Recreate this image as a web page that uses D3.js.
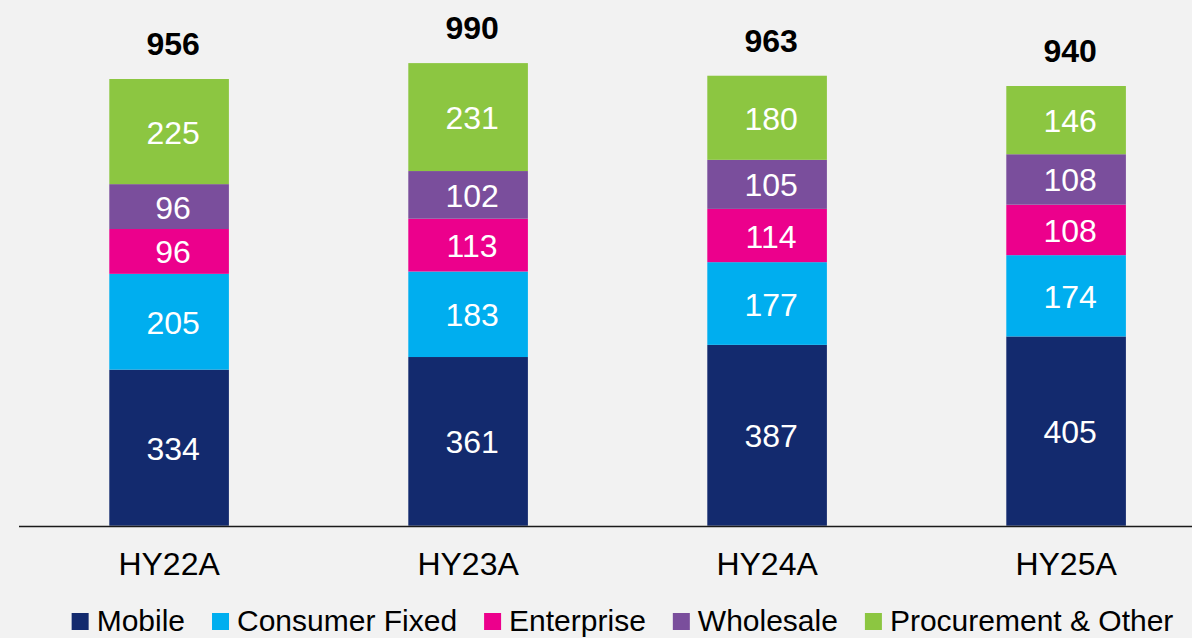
<!DOCTYPE html>
<html>
<head>
<meta charset="utf-8">
<script src="https://cdn.jsdelivr.net/npm/d3@7"></script>
<style>
  html, body { margin: 0; padding: 0; background: #f2f2f2; }
  svg { display: block; font-family: "Liberation Sans", Arial, sans-serif; }
</style>
</head>
<body>
<div class="chart"></div>
<script>
const periods = ["HY22A", "HY23A", "HY24A", "HY25A"];
const seriesNames = ["Mobile", "Consumer Fixed", "Enterprise", "Wholesale", "Procurement & Other"];
const mobile = [334, 361, 387, 405];
const consumerFixed = [205, 183, 177, 174];
const enterprise = [96, 113, 114, 108];
const wholesale = [96, 102, 105, 108];
const procurement = [225, 231, 180, 146];
const totals = [956, 990, 963, 940];

const colors = ["#132a6e", "#00aeef", "#ec008c", "#7a4e9c", "#8cc641"];

const width = 1192, height = 638;

// one row per period, built from the arrays above
const rows = periods.map((p, i) => ({
  period: p,
  "Mobile": mobile[i],
  "Consumer Fixed": consumerFixed[i],
  "Enterprise": enterprise[i],
  "Wholesale": wholesale[i],
  "Procurement & Other": procurement[i],
  total: totals[i]
}));

const svg = d3.select(".chart")
  .append("svg")
  .attr("width", width)
  .attr("height", height);

const x = d3.scaleBand()
  .domain(periods)
  .range([19.6, 19.6 + 299 * 4])
  .paddingInner(0.6)
  .paddingOuter(0.3);

const y = d3.scaleLinear()
  .domain([0, 956])
  .range([525.7, 79]);

const stack = d3.stack().keys(seriesNames)(rows);

const layer = svg.selectAll("g.layer")
  .data(stack)
  .enter()
  .append("g")
  .attr("class", "layer")
  .attr("fill", (d, i) => colors[i]);

layer.selectAll("rect")
  .data(d => d)
  .enter()
  .append("rect")
  .attr("x", d => x(d.data.period))
  .attr("y", d => y(d[1]))
  .attr("width", x.bandwidth())
  .attr("height", d => y(d[0]) - y(d[1]));

/*values inside the segments*/
layer.selectAll("text")
  .data(d => d)
  .enter()
  .append("text")
  .attr("x", d => x(d.data.period) + x.bandwidth() / 2 + 4)
  .attr("y", d => (y(d[0]) + y(d[1])) / 2 + 12)
  .attr("text-anchor", "middle")
  .attr("font-size", "32px")
  .attr("fill", "#ffffff")
  .text(d => d[1] - d[0]);

/*totals on top*/
svg.selectAll("text.total")
  .data(rows)
  .enter()
  .append("text")
  .attr("class", "total")
  .attr("x", d => x(d.period) + x.bandwidth() / 2 + 4)
  .attr("y", d => y(d3.sum(seriesNames, k => d[k])) - 24)
  .attr("text-anchor", "middle")
  .attr("font-size", "32px")
  .attr("font-weight", "bold")
  .attr("fill", "#000")
  .text(d => d.total);

// baseline
svg.append("line")
  .attr("x1", 19)
  .attr("x2", width)
  .attr("y1", y(0) + 0.8)
  .attr("y2", y(0) + 0.8)
  .attr("stroke", "#1a1a1a")
  .attr("stroke-width", 1.6);

svg.selectAll("text.cat")
  .data(periods)
  .enter()
  .append("text")
  .attr("class", "cat")
  .attr("x", d => x(d) + x.bandwidth() / 2)
  .attr("y", 575)
  .attr("text-anchor", "middle")
  .attr("font-size", "32px")
  .attr("fill", "#000")
  .text(d => d);

/*legend*/
const legend = svg.append("g");
let lx = 0;
seriesNames.forEach((name, i) => {
  const item = legend.append("g").attr("transform", `translate(${lx},0)`);
  item.append("rect")
    .attr("x", 0)
    .attr("y", 613)
    .attr("width", 17)
    .attr("height", 17)
    .attr("fill", colors[i]);
  const t = item.append("text")
    .attr("x", 25)
    .attr("y", 631)
    .attr("font-size", "30px")
    .attr("fill", "#000")
    .text(name);
  lx += 25 + t.node().getComputedTextLength() + 27;
});
const legendWidth = lx - 27;
legend.attr("transform", `translate(${622.5 - legendWidth / 2},0)`);
</script>
</body>
</html>
